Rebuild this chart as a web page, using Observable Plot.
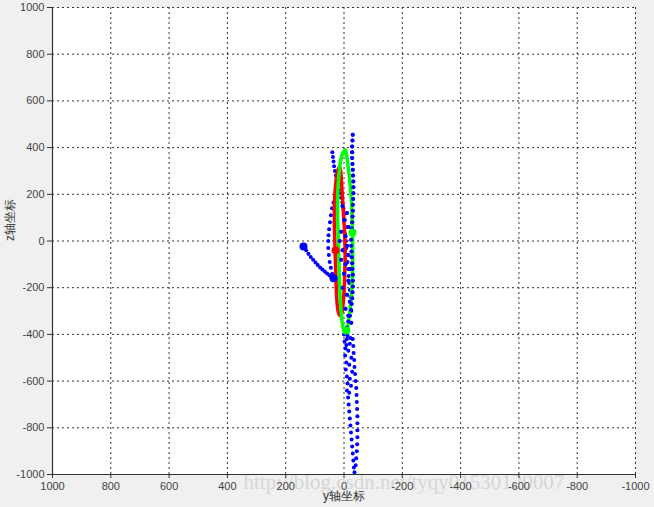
<!DOCTYPE html>
<html>
<head>
<meta charset="utf-8">
<script src="https://cdn.jsdelivr.net/npm/d3@7"></script>
<script src="https://cdn.jsdelivr.net/npm/@observablehq/plot@0.6"></script>
<style>
  html, body { margin: 0; padding: 0; background: #f0f0f0; }
</style>
</head>
<body>
<div id="chart"></div>
<script>
// tick values
const xTicks = [1000, 800, 600, 400, 200, 0, -200, -400, -600, -800, -1000];
const yTicks = [-1000, -800, -600, -400, -200, 0, 200, 400, 600, 800, 1000];
const xLabel = "y轴坐标";
const yLabel = "z轴坐标";
const watermark = "http://blog.csdn.net/tyqy01530120007";

// blue trajectory (y, z)
const blueTrail = [[139,-24],[130,-40],[122,-55],[114,-68],[106,-80],[98,-92],[90,-103],[82,-113],[74,-122],[66,-131],[58,-139],[50,-147],[43,-154],[36,-160]];
const blueLeftArc = [[40,-140],[45,-115],[49,-90],[52,-60],[54,-30],[54,0],[53,25],[51,50],[48,80],[45,110],[41,140],[36,165],[30,190],[24,205]];
const blueUpper = [[40,380],[38,360],[36,340],[34,320],[31,300],[28,280],[25,260],[21,240],[17,220],[14,205],[10,185],[6,165],[2,140],[0,115],[-3,90],[-5,60],[-4,30],[-6,0],[-8,-30],[-10,-60],[-12,-90],[-14,-120],[-16,-150],[-18,-180],[-20,-210],[-22,-240],[-24,-270],[-25,-300]];
const blueRight = [[-30,455],[-29,430],[-28,405],[-28,380],[-28,355],[-29,330],[-30,305],[-31,280],[-32,255],[-32,230],[-32,205],[-31,180],[-30,155],[-30,130],[-29,105],[-28,80],[-27,55],[-26,30],[-25,5],[-25,-20],[-26,-45],[-27,-70],[-28,-95],[-29,-120],[-30,-145],[-30,-170],[-30,-195],[-29,-220],[-28,-245],[-26,-270],[-24,-295],[-20,-320],[-15,-345],[-10,-370],[-8,-395]];
const blueMiddle = [[5,150],[-10,120],[0,90],[-15,60],[10,40],[-5,20],[15,0],[-10,-20],[5,-40],[-15,-60],[10,-80],[-5,-100],[-20,-120],[0,-140],[-15,-170],[5,-200],[-10,-230],[-20,-260],[-5,-290],[-15,-320],[-25,-350]];
const blueTailLeft = [[0,-400],[-2,-430],[-5,-460],[-4,-490],[-8,-520],[-6,-550],[-10,-580],[-12,-610],[-10,-640],[-14,-670],[-16,-700],[-18,-730],[-20,-760],[-22,-790],[-24,-820],[-26,-850],[-28,-880],[-30,-910],[-32,-940],[-34,-970],[-36,-990]];
const blueTailRight = [[-40,-960],[-42,-930],[-44,-900],[-45,-870],[-46,-840],[-46,-810],[-46,-780],[-46,-750],[-45,-720],[-44,-690],[-43,-660],[-42,-630],[-40,-600],[-38,-570],[-36,-540],[-35,-510],[-33,-480],[-32,-450],[-30,-420]];
const blueScatter = [[-10,-420],[-20,-440],[-15,-470],[-25,-500],[-18,-530],[-28,-560],[-20,-590],[-24,-620],[-18,-650],[-12,-405],[-22,-415],[-8,-445]];
const blueBig = [[139,-24],[36,-160]];

// red loop
const redLoop = [[15,318],[22,300],[27,260],[30,220],[32,180],[33,140],[33,100],[33,60],[32,20],[31,-20],[30,-60],[29,-100],[28,-140],[27,-180],[26,-220],[24,-260],[21,-295],[17,-315],[12,-320],[8,-310],[4,-280],[1,-240],[-1,-200],[-2,-160],[-3,-120],[-4,-80],[-4,-40],[-3,0],[-2,40],[0,80],[2,120],[4,160],[6,200],[8,240],[10,280],[13,310],[15,318]];
const redBig = [[29,-40]];

// green loop
const greenLoop = [[-5,390],[0,385],[6,370],[12,340],[16,300],[19,260],[21,220],[22,180],[22,140],[22,100],[21,60],[20,20],[19,-20],[18,-60],[17,-100],[16,-140],[15,-180],[14,-220],[12,-260],[10,-300],[7,-340],[3,-370],[-2,-390],[-6,-395],[-10,-385],[-14,-360],[-18,-320],[-22,-280],[-25,-240],[-27,-200],[-28,-160],[-29,-120],[-30,-80],[-30,-40],[-30,0],[-29,40],[-28,80],[-27,120],[-26,160],[-24,200],[-21,240],[-18,280],[-14,320],[-10,360],[-7,380],[-5,390]];
const greenBig = [[-29,36],[-8,-383]];

const blueAll = [].concat(blueTrail, blueLeftArc, blueUpper, blueRight, blueMiddle, blueTailLeft, blueTailRight, blueScatter);

const font = "'Liberation Sans', Arial, sans-serif";

const chart = Plot.plot({
  width: 654,
  height: 507,
  marginLeft: 52,
  marginRight: 19,
  marginTop: 7,
  marginBottom: 33,
  style: { background: "#f0f0f0", fontFamily: font, fontSize: "11px", color: "#333" },
  x: { domain: [1000, -1000], label: null },
  y: { domain: [-1000, 1000], label: null },
  marks: [
    Plot.frame({ fill: "white", stroke: "none" }),
    Plot.gridX(xTicks, { stroke: "#333", strokeOpacity: 1, strokeDasharray: "2,3" }),
    Plot.gridY(yTicks, { stroke: "#333", strokeOpacity: 1, strokeDasharray: "2,3" }),
    Plot.text([watermark], { frameAnchor: "bottom-left", dx: 191, dy: 8, textAnchor: "start", lineAnchor: "middle", fontFamily: "'Liberation Serif', 'DejaVu Serif', serif", fontSize: 21, fill: "#d6d6d6" }),
    Plot.ruleX([1000], { stroke: "#333", strokeWidth: 1.2 }),
    Plot.ruleY([-1000], { stroke: "#333", strokeWidth: 1.2 }),
    Plot.axisX({ ticks: xTicks, tickFormat: d => String(d), tickSize: 4, tickPadding: 4, stroke: "#333", fill: "#444", label: null }),
    Plot.axisY({ ticks: yTicks, tickFormat: d => String(d), tickSize: 5, tickPadding: 3, stroke: "#333", fill: "#444", label: null }),
    Plot.text([xLabel], { frameAnchor: "bottom", dy: 25, fontSize: 12, fill: "#333" }),
    Plot.text([yLabel], { frameAnchor: "left", dx: -42, rotate: -90, fontSize: 12, fill: "#333" }),
    Plot.dot(blueAll, { x: d => d[0], y: d => d[1], r: 2, fill: "#0000ff", stroke: "none" }),
    Plot.line(redLoop, { x: d => d[0], y: d => d[1], stroke: "#ff0000", strokeWidth: 3.5, curve: "catmull-rom" }),
    Plot.line(greenLoop, { x: d => d[0], y: d => d[1], stroke: "#00ff00", strokeWidth: 3.5, curve: "catmull-rom" }),
    Plot.dot(blueMiddle, { x: d => d[0], y: d => d[1], r: 2, fill: "#0000ff", stroke: "none" }),
    Plot.dot(blueRight, { x: d => d[0], y: d => d[1], r: 2, fill: "#0000ff", stroke: "none" }),
    Plot.dot(blueBig, { x: d => d[0], y: d => d[1], r: 4, fill: "#0000ff", stroke: "none" }),
    Plot.dot(redBig, { x: d => d[0], y: d => d[1], r: 4, fill: "#ff0000", stroke: "none" }),
    Plot.dot(greenBig, { x: d => d[0], y: d => d[1], r: 4, fill: "#00ff00", stroke: "none" })
  ]
});
document.getElementById("chart").appendChild(chart);
</script>
</body>
</html>
